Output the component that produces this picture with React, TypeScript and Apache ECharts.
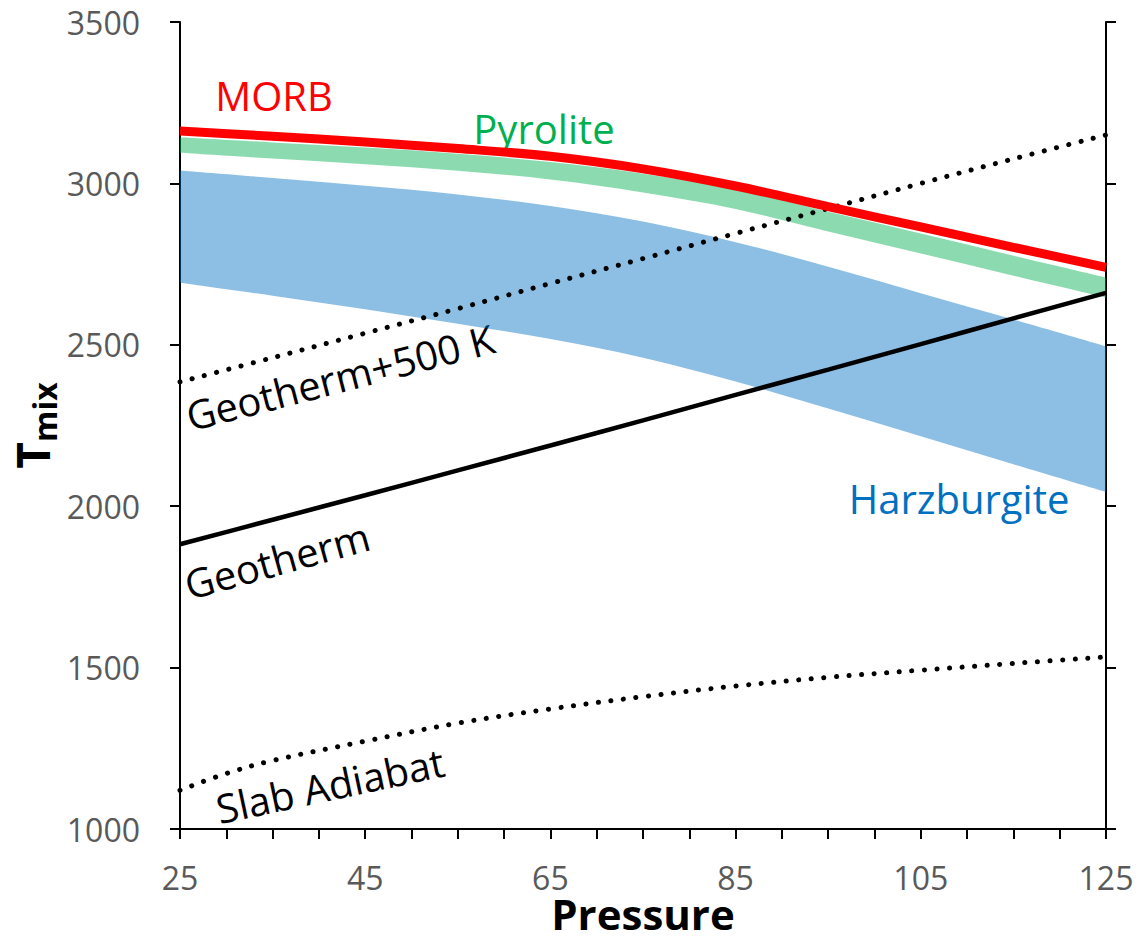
import React, { useEffect, useRef } from "react";
import * as echarts from "echarts";

// Pressure sample points shared by most curves
const pressure = [25, 35, 45, 55, 65, 75, 85, 95, 105, 115, 125];
const morb = [3162, 3146, 3128, 3108, 3084, 3045, 2992, 2928, 2865, 2802, 2740];
const pyroliteUpper = [3143, 3127, 3111, 3092, 3066, 3030, 2982, 2912, 2845, 2776, 2708];
const pyroliteLower = [3095, 3077, 3059, 3039, 3012, 2972, 2921, 2851, 2783, 2714, 2646];
const harzUpper = [3040, 3017, 2993, 2966, 2930, 2882, 2818, 2742, 2660, 2578, 2495];
const harzLower = [2692, 2652, 2610, 2565, 2518, 2460, 2386, 2303, 2217, 2130, 2044];
const geotherm = [1882, 1958, 2034, 2111, 2188, 2266, 2345, 2423, 2502, 2582, 2661];
const geothermPlus500 = [2385, 2460, 2536, 2612, 2690, 2767, 2845, 2922, 3000, 3076, 3150];
const slabPressure = [25, 30, 35, 45, 55, 65, 75, 85, 95, 105, 115, 125];
const slabAdiabat = [1120, 1172, 1212, 1272, 1328, 1372, 1410, 1443, 1470, 1492, 1513, 1533];
const xTickLabels = [25, 45, 65, 85, 105, 125];

const FONT = "'Open Sans', 'Noto Sans', sans-serif";

function curve(pts: number[][], moveTo: boolean): string {
  let d = (moveTo ? "M " : "L ") + pts[0][0] + " " + pts[0][1];
  for (let i = 0; i < pts.length - 1; i++) {
    const p0 = pts[Math.max(i - 1, 0)];
    const p1 = pts[i];
    const p2 = pts[i + 1];
    const p3 = pts[Math.min(i + 2, pts.length - 1)];
    const c1x = p1[0] + (p2[0] - p0[0]) / 6;
    const c1y = p1[1] + (p2[1] - p0[1]) / 6;
    const c2x = p2[0] - (p3[0] - p1[0]) / 6;
    const c2y = p2[1] - (p3[1] - p1[1]) / 6;
    d += " C " + c1x + " " + c1y + " " + c2x + " " + c2y + " " + p2[0] + " " + p2[1];
  }
  return d;
}

function band(name: string, upper: number[], lower: number[], color: string) {
  return {
    name,
    type: "custom",
    coordinateSystem: "cartesian2d",
    data: [[pressure[0], upper[0]]],
    clip: true,
    silent: true,
    renderItem: (_params: any, api: any) => {
      const top = pressure.map((p, i) => api.coord([p, upper[i]]));
      const bot = pressure.map((p, i) => api.coord([p, lower[i]])).reverse();
      const d = curve(top, true) + " " + curve(bot, false) + " Z";
      return { type: "path", shape: { pathData: d }, style: { fill: color } };
    },
  };
}

function line(name: string, xs: number[], ys: number[], lineStyle: any) {
  return {
    name,
    type: "line",
    data: xs.map((x, i) => [x, ys[i]]),
    smooth: 0.35,
    symbol: "none",
    silent: true,
    lineStyle,
  };
}

const dotted = { color: "#000", width: 5, type: [0.1, 12.5], cap: "round" };

export default function App() {
  const ref = useRef<HTMLDivElement>(null);
  useEffect(() => {
    const chart = echarts.init(ref.current!, null, { renderer: "svg" });
    const axisLine = { show: true, onZero: false, lineStyle: { color: "#000", width: 2 } };
    const axisTick = { show: true, inside: false, length: 10, lineStyle: { color: "#000", width: 2 } };
    chart.setOption({
      animation: false,
      grid: { left: 180, right: 40, top: 22, bottom: 107, containLabel: false, outerBoundsMode: "none" },
      xAxis: {
        type: "value",
        min: 25,
        max: 125,
        interval: 5,
        axisLine,
        axisTick,
        splitLine: { show: false },
        axisLabel: {
          margin: 32,
          fontSize: 32,
          lineHeight: 32,
          color: "#595959",
          fontFamily: FONT,
          formatter: (v: number) => (xTickLabels.indexOf(v) >= 0 ? String(v) : ""),
        },
        name: "Pressure",
        nameLocation: "middle",
        nameGap: 66,
        nameMoveOverlap: false,
        nameTextStyle: { fontSize: 42, lineHeight: 36, fontWeight: "bold", color: "#000", fontFamily: FONT },
      },
      yAxis: [
        {
          type: "value",
          min: 1000,
          max: 3500,
          interval: 500,
          position: "left",
          axisLine,
          axisTick,
          splitLine: { show: false },
          axisLabel: { margin: 40, fontSize: 32, color: "#595959", fontFamily: FONT, formatter: (v: number) => String(v) },
          name: "{t|T}{s|mix}",
          nameLocation: "middle",
          nameGap: 120,
          nameMoveOverlap: false,
          nameRotate: 90,
          nameTextStyle: {
            rich: {
              t: { fontSize: 46, fontWeight: "bold", color: "#000", fontFamily: FONT, lineHeight: 56 },
              s: { fontSize: 32, fontWeight: "bold", color: "#000", fontFamily: FONT, lineHeight: 38, verticalAlign: "bottom" },
            },
          },
        },
        {
          type: "value",
          min: 1000,
          max: 3500,
          interval: 500,
          position: "right",
          axisLine,
          axisTick,
          splitLine: { show: false },
          axisLabel: { show: false },
        },
      ],
      series: [
        line("Slab Adiabat", slabPressure, slabAdiabat, dotted),
        line("Geotherm+500 K", pressure, geothermPlus500, dotted),
        line("Geotherm", pressure, geotherm, { color: "#000", width: 4.5 }),
        band("Harzburgite", harzUpper, harzLower, "rgba(0,112,192,0.45)"),
        band("Pyrolite", pyroliteUpper, pyroliteLower, "rgba(0,176,80,0.45)"),
        line("MORB", pressure, morb, { color: "#ff0000", width: 9 }),
      ],
      graphic: [
        { type: "text", x: 274, y: 95, style: { text: "MORB", fill: "#ff0000", fontSize: 40, fontFamily: FONT, align: "center", verticalAlign: "middle" } },
        { type: "text", x: 544, y: 128, style: { text: "Pyrolite", fill: "#00b050", fontSize: 40, fontFamily: FONT, align: "center", verticalAlign: "middle" } },
        { type: "text", x: 959, y: 498, style: { text: "Harzburgite", fill: "#0070c0", fontSize: 40, fontFamily: FONT, align: "center", verticalAlign: "middle" } },
        { type: "text", x: 340, y: 377, rotation: (14.5 * Math.PI) / 180, style: { text: "Geotherm+500 K", fill: "#000", fontSize: 40, fontFamily: FONT, align: "center", verticalAlign: "middle" } },
        { type: "text", x: 277, y: 560, rotation: (15.5 * Math.PI) / 180, style: { text: "Geotherm", fill: "#000", fontSize: 40, fontFamily: FONT, align: "center", verticalAlign: "middle" } },
        { type: "text", x: 330, y: 785, rotation: (12 * Math.PI) / 180, style: { text: "Slab Adiabat", fill: "#000", fontSize: 40, fontFamily: FONT, align: "center", verticalAlign: "middle" } },
      ],
    });
    return () => chart.dispose();
  }, []);
  return (
    <div
      ref={ref}
      style={{ position: "fixed", left: 0, top: 0, width: 1146, height: 936, background: "#fff" }}
    />
  );
}
